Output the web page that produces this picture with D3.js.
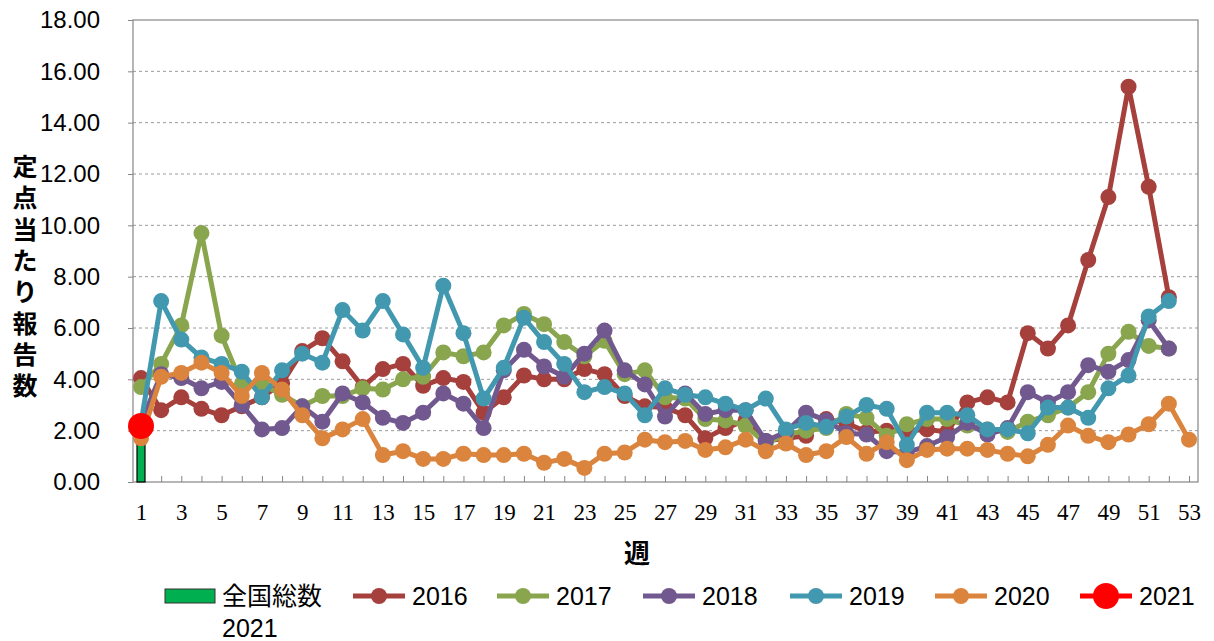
<!DOCTYPE html>
<html><head><meta charset="utf-8">
<script src="https://cdn.jsdelivr.net/npm/d3@7"></script>
<style>body{margin:0;background:#fff}svg{display:block}</style>
</head><body><svg id="c" width="1214" height="641"></svg>
<script>
// ---- data ----
const weeks = d3.range(1, 54);
const weekLabels = weeks.filter(w => w % 2 === 1);
const yTickValues = [0, 2, 4, 6, 8, 10, 12, 14, 16, 18];
const seriesNames = ["2016", "2017", "2018", "2019", "2020", "2021"];
const seriesColors = ["#A5403D", "#89A54E", "#71588F", "#4198AF", "#DB843D", "#FF0000"];
const barName = ["全国総数", "2021"];
const barWeeks = [1];
const barValues = [2.0];
const s2016 = [4.05,2.8,3.3,2.85,2.6,2.95,3.3,3.85,5.1,5.6,4.7,3.7,4.4,4.6,3.75,4.05,3.9,2.7,3.3,4.15,4.0,4.0,4.4,4.2,3.35,2.95,2.9,2.6,1.7,2.1,2.4,1.6,1.7,1.8,2.45,2.3,1.95,2.0,2.0,2.05,1.95,3.1,3.3,3.1,5.8,5.2,6.1,8.65,11.1,15.4,11.5,7.2];
const s2017 = [3.7,4.6,6.1,9.7,5.7,3.8,3.8,3.4,2.95,3.35,3.35,3.65,3.6,4.0,4.1,5.05,4.9,5.05,6.1,6.55,6.15,5.45,4.9,5.5,4.2,4.35,3.3,3.25,2.45,2.4,2.2,1.5,1.85,2.0,2.1,2.65,2.5,1.8,2.25,2.45,2.45,2.2,2.05,1.95,2.35,2.6,2.9,3.5,5.0,5.85,5.3,5.2];
const s2018 = [2.3,4.2,4.05,3.65,3.9,3.0,2.05,2.1,2.95,2.35,3.45,3.1,2.5,2.3,2.7,3.45,3.05,2.1,4.35,5.15,4.5,4.1,5.0,5.9,4.35,3.8,2.55,3.45,2.65,2.8,2.8,1.6,1.95,2.7,2.4,1.9,1.85,1.2,1.15,1.4,1.75,2.3,1.85,2.1,3.5,3.1,3.5,4.55,4.3,4.75,6.3,5.2];
const s2019 = [2.3,7.05,5.55,4.85,4.6,4.3,3.3,4.35,5.0,4.65,6.7,5.9,7.05,5.75,4.45,7.65,5.8,3.25,4.45,6.4,5.45,4.6,3.5,3.7,3.45,2.6,3.65,3.4,3.3,3.05,2.8,3.25,2.05,2.3,2.15,2.55,3.0,2.85,1.45,2.7,2.7,2.6,2.05,2.05,1.9,2.9,2.9,2.5,3.65,4.15,6.45,7.05];
const s2020 = [1.7,4.1,4.25,4.65,4.25,3.35,4.25,3.6,2.6,1.7,2.05,2.45,1.05,1.2,0.9,0.9,1.1,1.05,1.05,1.1,0.75,0.9,0.55,1.1,1.15,1.65,1.55,1.6,1.25,1.35,1.65,1.2,1.5,1.05,1.2,1.75,1.1,1.55,0.85,1.25,1.3,1.3,1.25,1.1,1.0,1.45,2.2,1.8,1.55,1.85,2.25,3.05,1.65];
const s2021 = [2.18];
const seriesValues = [s2016, s2017, s2018, s2019, s2020, s2021];
const yTitle = "定点当たり報告数";
const xTitle = "週";

// ---- layout ----
const svg = d3.select("#c");
const plot = {left: 133, right: 1198, top: 20, bottom: 482};
const x = d3.scalePoint().domain(weeks).range([141, 1189]);
const y = d3.scaleLinear().domain([0, 18]).range([plot.bottom, plot.top]);
const jpFont = "'Liberation Sans','Noto Sans CJK JP',sans-serif";

// gridlines
svg.append("g").selectAll("line").data(yTickValues.filter(v => v > 0 && v < 18)).join("line")
  .attr("x1", plot.left).attr("x2", plot.right)
  .attr("y1", d => y(d)).attr("y2", d => y(d))
  .attr("stroke", "#9a9a9a").attr("stroke-width", 1).attr("stroke-dasharray", "3,3");

// frame
svg.append("rect").attr("x", plot.left).attr("y", plot.top)
  .attr("width", plot.right - plot.left).attr("height", plot.bottom - plot.top)
  .attr("fill", "none").attr("stroke", "#868686").attr("stroke-width", 1.2);

// y axis
const yAxis = d3.axisLeft(y).tickValues(yTickValues).tickSize(5).tickPadding(28)
  .tickFormat(d3.format(".2f"));
const gy = svg.append("g").attr("transform", `translate(${plot.left},0)`).call(yAxis);
gy.select(".domain").remove();
gy.selectAll(".tick line").attr("stroke", "#868686");
gy.selectAll(".tick text").attr("font-family", "'Liberation Sans',Arial,sans-serif")
  .attr("font-size", 24).attr("fill", "#000");

// x axis
const xAxis = d3.axisBottom(x).tickValues(weeks).tickSize(-6).tickPadding(22)
  .tickFormat(d => d % 2 === 1 ? d : "");
const gx = svg.append("g").attr("transform", `translate(0,${plot.bottom})`).call(xAxis);
gx.select(".domain").remove();
gx.selectAll(".tick line").attr("stroke", "#868686");
gx.selectAll(".tick text").attr("font-family", "'Liberation Serif','Times New Roman',serif")
  .attr("font-size", 23).attr("fill", "#000");

// bar
svg.append("g").selectAll("rect").data(barWeeks.map((w, i) => ({w, v: barValues[i]}))).join("rect")
  .attr("x", d => x(d.w) - 4).attr("width", 8)
  .attr("y", d => y(d.v)).attr("height", d => y(0) - y(d.v))
  .attr("fill", "#00B050").attr("stroke", "#000").attr("stroke-width", 1.2);

// lines
const line = d3.line().x(d => x(d.w)).y(d => y(d.v));
seriesValues.forEach((vals, i) => {
  const pts = vals.map((v, k) => ({w: weeks[k], v}));
  const g = svg.append("g");
  g.append("path").datum(pts).attr("d", line).attr("fill", "none")
    .attr("stroke", seriesColors[i]).attr("stroke-width", 5).attr("stroke-linejoin", "round");
  g.selectAll("circle").data(pts).join("circle")
    .attr("cx", d => x(d.w)).attr("cy", d => y(d.v))
    .attr("r", i === 5 ? 13 : 8).attr("fill", seriesColors[i]);
});

// y title (vertical)
const yt = svg.append("text").attr("font-family", jpFont).attr("font-weight", "bold")
  .attr("font-size", 25).attr("fill", "#000").attr("text-anchor", "middle");
Array.from(yTitle).forEach((ch, i) => {
  yt.append("tspan").attr("x", 25).attr("y", 176 + i * 31.3).text(ch);
});

// x title
svg.append("text").attr("x", 637).attr("y", 563).attr("text-anchor", "middle")
  .attr("font-family", jpFont).attr("font-weight", "bold").attr("font-size", 26)
  .attr("fill", "#000").text(xTitle);

// legend
const lg = svg.append("g").attr("font-family", jpFont).attr("font-size", 25).attr("fill", "#000");
lg.append("rect").attr("x", 165).attr("y", 589).attr("width", 50).attr("height", 14)
  .attr("fill", "#00B050").attr("stroke", "#333").attr("stroke-width", 1);
lg.append("text").attr("x", 222).attr("y", 605).text(barName[0]);
lg.append("text").attr("x", 222).attr("y", 637).text(barName[1]);
const legX = [353, 497, 643, 790, 935, 1080];
seriesNames.forEach((n, i) => {
  const g = lg.append("g").attr("transform", `translate(${legX[i]},596)`);
  g.append("line").attr("x1", 0).attr("x2", 52).attr("stroke", seriesColors[i]).attr("stroke-width", 5);
  g.append("circle").attr("cx", 26).attr("r", i === 5 ? 13 : 8).attr("fill", seriesColors[i]);
  g.append("text").attr("x", 59).attr("y", 9).text(n);
});
</script>
</body></html>
